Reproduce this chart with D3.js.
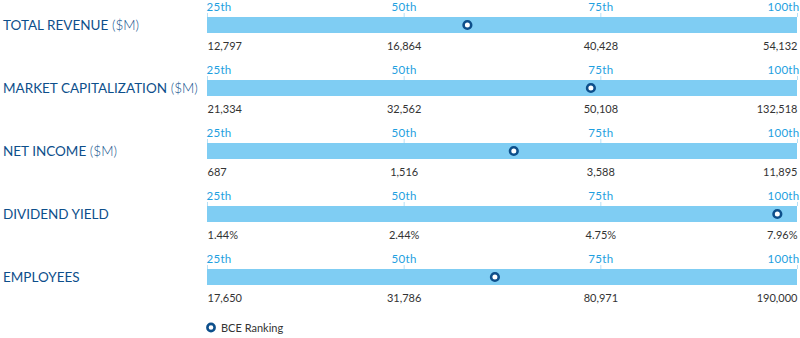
<!DOCTYPE html>
<html><head><meta charset="utf-8">
<script src="https://cdn.jsdelivr.net/npm/d3@7"></script>
<style>body{margin:0;background:#fff}svg{display:block}</style>
</head><body><svg id="c" width="800" height="338"></svg>
<script>
const metrics = ["TOTAL REVENUE", "MARKET CAPITALIZATION", "NET INCOME", "DIVIDEND YIELD", "EMPLOYEES"];
const units = [" ($M)", " ($M)", " ($M)", "", ""];
const percentiles = [25, 50, 75, 100];
const percentileLabels = ["25th", "50th", "75th", "100th"];
const tickValues = [
  ["12,797", "16,864", "40,428", "54,132"],
  ["21,334", "32,562", "50,108", "132,518"],
  ["687", "1,516", "3,588", "11,895"],
  ["1.44%", "2.44%", "4.75%", "7.96%"],
  ["17,650", "31,786", "80,971", "190,000"]
];
const bceRank = [58.1, 73.8, 64.0, 97.5, 61.6];
const legendLabel = "BCE Ranking";

const svg = d3.select("#c");
const x = d3.scaleLinear().domain([25, 100]).range([207, 797]);
const y = d3.scaleBand().domain(metrics).range([0, 315]).paddingInner(0).paddingOuter(0);
const barTop = 17, barH = 16;
const font = "Lato, 'Open Sans', sans-serif";
const dark = "#0d4f8b";

metrics.forEach((m, i) => {
  const g = svg.append("g").attr("transform", `translate(0,${y(m)})`);
  g.append("rect").attr("x", x(25)).attr("y", barTop).attr("width", x(100) - x(25)).attr("height", barH).attr("fill", "#7fcdf3");
  const axis = d3.axisTop(x).tickValues(percentiles).tickSize(4).tickFormat((d, j) => percentileLabels[j]);
  const ag = g.append("g").attr("transform", `translate(0,${barTop})`).call(axis);
  ag.select(".domain").remove();
  ag.selectAll(".tick line").attr("stroke", "#b5e0f6").attr("stroke-width", 1);
  ag.selectAll(".tick text").attr("fill", "#1ea0e0").attr("font-family", font).attr("font-size", 11.5).attr("y", -6)
    .attr("letter-spacing", 0.3)
    .attr("text-anchor", (d, j) => j === 0 ? "start" : (j === 3 ? "end" : "middle"))
    .attr("dx", (d, j) => j === 0 ? -1 : (j === 3 ? 2 : 0));
  const bg = g.append("g").attr("transform", `translate(0,${barTop + barH})`)
    .call(d3.axisBottom(x).tickValues(percentiles).tickSize(0).tickFormat((d, j) => tickValues[i][j]));
  bg.select(".domain").remove();
  bg.selectAll(".tick text").attr("fill", "#333").attr("font-family", font).attr("font-size", 11).attr("y", 9)
    .attr("text-anchor", (d, j) => j === 0 ? "start" : (j === 3 ? "end" : "middle"));
  const t = g.append("text").attr("x", 3).attr("y", 30).attr("font-family", font).attr("font-size", 13.5)
    .attr("fill", dark);
  t.append("tspan").text(m).attr("font-weight", 400);
  if (units[i]) t.append("tspan").text(units[i]).attr("font-weight", 300);
  g.append("circle").attr("cx", x(bceRank[i])).attr("cy", barTop + barH / 2).attr("r", 3.8)
    .attr("fill", "#fff").attr("stroke", dark).attr("stroke-width", 2.6);
});

const lg = svg.append("g");
lg.append("circle").attr("cx", 211).attr("cy", 327.5).attr("r", 3.6).attr("fill", "#fff").attr("stroke", dark).attr("stroke-width", 2.6);
lg.append("text").attr("x", 221).attr("y", 332).attr("font-family", font).attr("font-size", 11).attr("fill", "#333").text(legendLabel);
</script></body></html>
